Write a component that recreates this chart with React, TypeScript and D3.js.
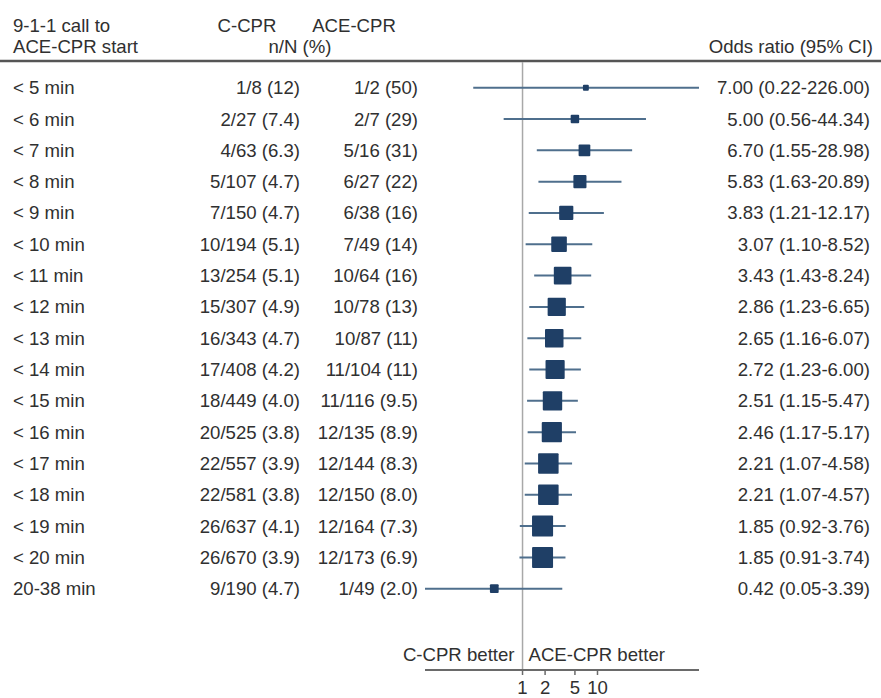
import * as d3 from "d3";
import React from "react";

// rows
const intervals = [
  "< 5 min", "< 6 min", "< 7 min", "< 8 min", "< 9 min", "< 10 min",
  "< 11 min", "< 12 min", "< 13 min", "< 14 min", "< 15 min", "< 16 min",
  "< 17 min", "< 18 min", "< 19 min", "< 20 min", "20-38 min",
];
const cCpr = [
  "1/8 (12)", "2/27 (7.4)", "4/63 (6.3)", "5/107 (4.7)", "7/150 (4.7)",
  "10/194 (5.1)", "13/254 (5.1)", "15/307 (4.9)", "16/343 (4.7)",
  "17/408 (4.2)", "18/449 (4.0)", "20/525 (3.8)", "22/557 (3.9)",
  "22/581 (3.8)", "26/637 (4.1)", "26/670 (3.9)", "9/190 (4.7)",
];
const aceCpr = [
  "1/2 (50)", "2/7 (29)", "5/16 (31)", "6/27 (22)", "6/38 (16)", "7/49 (14)",
  "10/64 (16)", "10/78 (13)", "10/87 (11)", "11/104 (11)", "11/116 (9.5)",
  "12/135 (8.9)", "12/144 (8.3)", "12/150 (8.0)", "12/164 (7.3)",
  "12/173 (6.9)", "1/49 (2.0)",
];
const oddsRatio = [7.0, 5.0, 6.7, 5.83, 3.83, 3.07, 3.43, 2.86, 2.65, 2.72, 2.51, 2.46, 2.21, 2.21, 1.85, 1.85, 0.42];
const ciLow = [0.22, 0.56, 1.55, 1.63, 1.21, 1.1, 1.43, 1.23, 1.16, 1.23, 1.15, 1.17, 1.07, 1.07, 0.92, 0.91, 0.05];
const ciHigh = [226.0, 44.34, 28.98, 20.89, 12.17, 8.52, 8.24, 6.65, 6.07, 6.0, 5.47, 5.17, 4.58, 4.57, 3.76, 3.74, 3.39];
const axisTicks = [1, 2, 5, 10];

const width = 881;
const height = 698;
const font = "'Liberation Sans', Arial, Helvetica, sans-serif";
const textColor = "#303030";
const lineColor = "#4f6f8d";
const boxColor = "#1f3f66";

export default function App() {
  const x = d3.scaleLog().domain([0.05, 226]).range([425, 699]);
  const y = d3
    .scalePoint<number>()
    .domain(d3.range(intervals.length))
    .range([87.7, 588.7]);

  // box side grows with the inverse-variance weight of each estimate
  const invSe = ciLow.map((lo, i) => 3.92 / (Math.log(ciHigh[i]) - Math.log(lo)));
  const box = (i: number) => 9.28 * Math.pow(invSe[i], 0.8);

  const fmt = d3.format(".2f");
  const x1 = x(1);
  const axisY = 670;

  return (
    <svg
      width={width}
      height={height}
      style={{ position: "absolute", left: 0, top: 0, background: "#fff" }}
      fontFamily={font}
      fontSize={18.6}
      fill={textColor}
    >
      {/* header */}
      <text x={13} y={32}>9-1-1 call to</text>
      <text x={13} y={53}>ACE-CPR start</text>
      <text x={247} y={32} textAnchor="middle">C-CPR</text>
      <text x={354} y={32} textAnchor="middle">ACE-CPR</text>
      <text x={300} y={53} textAnchor="middle">n/N (%)</text>
      <text x={873} y={53} textAnchor="end">Odds ratio (95% CI)</text>
      <line x1={0} x2={width} y1={61} y2={61} stroke="#555" strokeWidth={2.5} />

      {/* reference line at OR = 1 */}
      <line x1={x1} x2={x1} y1={62} y2={axisY} stroke="#a8a8a8" strokeWidth={1.5} />

      {intervals.map((label, i) => {
        const cy = y(i)!;
        const s = box(i);
        return (
          <g key={label}>
            <text x={13} y={cy + 6.5}>{label}</text>
            <text x={300} y={cy + 6.5} textAnchor="end">{cCpr[i]}</text>
            <text x={418} y={cy + 6.5} textAnchor="end">{aceCpr[i]}</text>
            <line
              x1={x(ciLow[i])}
              x2={x(ciHigh[i])}
              y1={cy}
              y2={cy}
              stroke={lineColor}
              strokeWidth={2}
            />
            <rect
              x={x(oddsRatio[i]) - s / 2}
              y={cy - s / 2}
              width={s}
              height={s}
              rx={1}
              fill={boxColor}
            />
            <text x={870} y={cy + 6.5} textAnchor="end">
              {`${fmt(oddsRatio[i])} (${fmt(ciLow[i])}-${fmt(ciHigh[i])})`}
            </text>
          </g>
        );
      })}

      {/* favours labels */}
      <text x={x1 - 8} y={661} textAnchor="end">C-CPR better</text>
      <text x={x1 + 6} y={661}>ACE-CPR better</text>

      {/* axis */}
      <line x1={x(0.05)} x2={x(226)} y1={axisY} y2={axisY} stroke="#6a6a6a" strokeWidth={2} />
      {axisTicks.map((t) => (
        <g key={t} transform={`translate(${x(t)},${axisY})`}>
          <line y1={0} y2={5} stroke="#6a6a6a" strokeWidth={1.5} />
          <text y={24} textAnchor="middle">{t}</text>
        </g>
      ))}
    </svg>
  );
}
